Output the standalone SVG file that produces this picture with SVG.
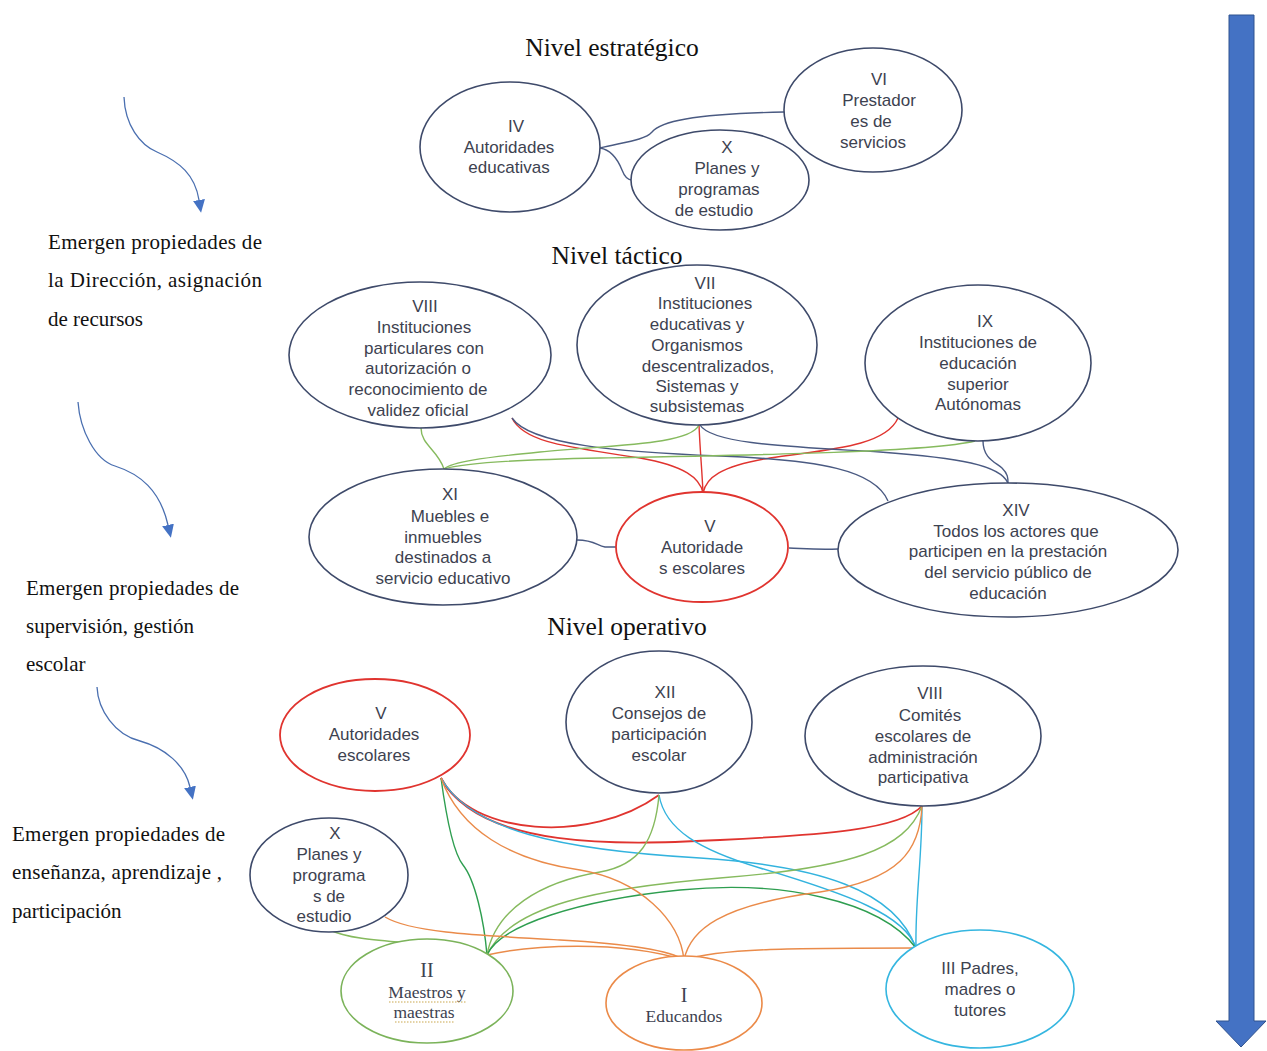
<svg xmlns="http://www.w3.org/2000/svg" width="1267" height="1051" viewBox="0 0 1267 1051">
<defs>
<marker id="ah" markerUnits="userSpaceOnUse" markerWidth="14" markerHeight="12" refX="0" refY="6" orient="auto">
<path d="M0,0 L13,6 L0,12 z" fill="#4472C4"/>
</marker>
</defs>
<style>
.n{fill:#fff;stroke:#3e4a6a;stroke-width:1.6}
.nr{fill:#fff;stroke:#e0342f;stroke-width:1.8}
.ng{fill:#fff;stroke:#7bb35a;stroke-width:1.6}
.no{fill:#fff;stroke:#eb8a48;stroke-width:1.6}
.nc{fill:#fff;stroke:#35b6e0;stroke-width:1.6}
.t{font-family:"Liberation Sans",Arial,sans-serif;font-size:17px;fill:#3d4250;text-anchor:middle}
.ts{font-family:"Liberation Serif","Times New Roman",serif;font-size:17.5px;fill:#3d4250;text-anchor:middle}
.h{font-family:"Liberation Serif","Times New Roman",serif;font-size:25.5px;fill:#111;text-anchor:middle}
.l{font-family:"Liberation Serif","Times New Roman",serif;font-size:21px;fill:#111}
.c{fill:none;stroke-width:1.4}
.cb{stroke:#4a5a82}
.cr{stroke:#e0342f}
.cg{stroke:#86ba5e}
.cdg{stroke:#2e9e50}
.co{stroke:#ea8b4a}
.cc{stroke:#33b3de}
.la{fill:none;stroke:#4a6fb0;stroke-width:1.3}
</style>
<rect width="1267" height="1051" fill="#fff"/>

<text class="h" x="612" y="56">Nivel estratégico</text>
<text class="h" x="617" y="264">Nivel táctico</text>
<text class="h" x="627" y="635">Nivel operativo</text>

<g id="side-notes">
<path class="la" d="M124,97 C125,125 140,145 157,152 C180,162 195,175 199,200" marker-end="url(#ah)"/>
<path class="la" d="M78,402 C80,430 95,460 115,466 C140,474 160,490 168,525" marker-end="url(#ah)"/>
<path class="la" d="M97,687 C98,710 115,735 140,741 C165,748 185,765 190,787" marker-end="url(#ah)"/>
<text class="l" x="48" y="249" textLength="214" lengthAdjust="spacing">Emergen propiedades de</text>
<text class="l" x="48" y="287" textLength="214" lengthAdjust="spacing">la Dirección, asignación</text>
<text class="l" x="48" y="326">de recursos</text>
<text class="l" x="26" y="595" textLength="213" lengthAdjust="spacing">Emergen propiedades de</text>
<text class="l" x="26" y="633">supervisión, gestión</text>
<text class="l" x="26" y="671">escolar</text>
<text class="l" x="12" y="841" textLength="213" lengthAdjust="spacing">Emergen propiedades de</text>
<text class="l" x="12" y="879" textLength="210" lengthAdjust="spacing">enseñanza, aprendizaje ,</text>
<text class="l" x="12" y="918">participación</text>
</g>

<g id="big-arrow">
<path d="M1229,15 L1254,15 L1254,1021 L1266,1021 L1241,1047 L1216,1021 L1229,1021 z" fill="#4472C4" stroke="#2F528F" stroke-width="1"/>
</g>

<g id="connectors">
<path class="c cb" d="M600,148 C625,142 645,140 652,132 C660,122 690,114 784,112"/>
<path class="c cb" d="M600,148 C612,150 618,160 622,170 C625,178 628,180 632,180"/>

<path class="c cr" d="M512,418 C525,445 580,448 640,458 C685,466 700,478 703,493"/>
<path class="c cr" d="M699,425 C700,450 702,470 703,493"/>
<path class="c cr" d="M898,418 C885,448 820,450 770,458 C720,466 706,478 703,493"/>
<path class="c cb" d="M512,418 C530,445 620,452 720,456 C820,460 875,470 888,501"/>
<path class="c cb" d="M700,425 C712,445 800,447 880,452 C960,458 1000,465 1008,483"/>
<path class="c cb" d="M983,441 C983,458 995,462 1002,468 C1008,474 1008,478 1008,483"/>
<path class="c cb" d="M577,540 C595,540 597,546 605,547 L616,547"/>
<path class="c cb" d="M789,548 C810,549 820,550 838,549"/>
<path class="c cg" d="M421,428 C421,445 438,450 444,469"/>
<path class="c cg" d="M699,425 C690,445 610,445 540,452 C480,458 452,462 444,469"/>
<path class="c cg" d="M975,441 C930,452 760,455 600,458 C500,460 460,464 444,469"/>

<path class="c cr" style="stroke-width:1.8" d="M441,778 C470,835 590,845 659,795"/>
<path class="c cr" style="stroke-width:1.8" d="M441,778 C480,850 620,845 720,840 C820,835 900,830 922,806"/>
<path class="c cc" d="M441,778 C470,830 560,850 700,858 C820,866 895,890 916,948"/>
<path class="c cc" d="M659,795 C665,830 700,850 760,868 C850,895 905,915 916,948"/>
<path class="c cc" d="M922,806 C922,860 915,900 916,948"/>
<path class="c cdg" d="M441,778 C448,830 455,855 463,865 C475,880 484,920 487,955"/>
<path class="c cg" d="M659,795 C655,840 640,865 600,872 C540,882 495,910 487,955"/>
<path class="c cg" d="M922,806 C905,850 850,868 720,878 C600,888 510,905 487,955"/>
<path class="c cdg" d="M916,948 C880,900 780,880 680,890 C580,900 500,925 487,955"/>
<path class="c cg" d="M330,930 C360,945 440,940 487,955"/>
<path class="c co" d="M441,778 C460,830 510,860 580,870 C640,880 680,920 684,960"/>
<path class="c co" d="M922,806 C920,850 900,880 820,892 C720,905 690,930 684,960"/>
<path class="c co" d="M385,917 C410,932 470,935 560,940 C630,944 670,950 684,960"/>
<path class="c co" d="M487,955 C530,945 620,940 684,960"/>
<path class="c co" d="M684,960 C720,948 800,948 916,948"/>
</g>

<g id="n-IV-strat">
<ellipse class="n" cx="510" cy="147" rx="90" ry="65"/>
<text class="t" x="516" y="132">IV</text>
<text class="t" x="509" y="153">Autoridades</text>
<text class="t" x="509" y="173">educativas</text>
</g>
<g id="n-VI-strat">
<ellipse class="n" cx="873" cy="110" rx="89" ry="62"/>
<text class="t" x="879" y="85">VI</text>
<text class="t" x="879" y="106">Prestador</text>
<text class="t" x="871" y="127">es de</text>
<text class="t" x="873" y="148">servicios</text>
</g>
<g id="n-X-strat">
<ellipse class="n" cx="720" cy="180" rx="89" ry="50"/>
<text class="t" x="727" y="153">X</text>
<text class="t" x="727" y="174">Planes y</text>
<text class="t" x="719" y="195">programas</text>
<text class="t" x="714" y="216">de estudio</text>
</g>

<g id="n-VIII-tact">
<ellipse class="n" cx="420" cy="355" rx="131" ry="73"/>
<text class="t" x="425" y="312">VIII</text>
<text class="t" x="424" y="333">Instituciones</text>
<text class="t" x="424" y="354">particulares con</text>
<text class="t" x="418" y="374">autorización o</text>
<text class="t" x="418" y="395">reconocimiento de</text>
<text class="t" x="418" y="416">validez oficial</text>
</g>
<g id="n-VII-tact">
<ellipse class="n" cx="697" cy="345" rx="120" ry="80"/>
<text class="t" x="705" y="289">VII</text>
<text class="t" x="705" y="309">Instituciones</text>
<text class="t" x="697" y="330">educativas y</text>
<text class="t" x="697" y="351">Organismos</text>
<text class="t" x="708" y="372">descentralizados,</text>
<text class="t" x="697" y="392">Sistemas y</text>
<text class="t" x="697" y="412">subsistemas</text>
</g>
<g id="n-IX-tact">
<ellipse class="n" cx="978" cy="363" rx="113" ry="78"/>
<text class="t" x="985" y="327">IX</text>
<text class="t" x="978" y="348">Instituciones de</text>
<text class="t" x="978" y="369">educación</text>
<text class="t" x="978" y="390">superior</text>
<text class="t" x="978" y="410">Autónomas</text>
</g>
<g id="n-XI-tact">
<ellipse class="n" cx="443" cy="537" rx="134" ry="68"/>
<text class="t" x="450" y="500">XI</text>
<text class="t" x="450" y="522">Muebles e</text>
<text class="t" x="443" y="543">inmuebles</text>
<text class="t" x="443" y="563">destinados a</text>
<text class="t" x="443" y="584">servicio educativo</text>
</g>
<g id="n-V-tact">
<ellipse class="nr" cx="702" cy="547" rx="86" ry="55"/>
<text class="t" x="710" y="532">V</text>
<text class="t" x="702" y="553">Autoridade</text>
<text class="t" x="702" y="574">s escolares</text>
</g>
<g id="n-XIV-tact">
<ellipse class="n" cx="1008" cy="550" rx="170" ry="67"/>
<text class="t" x="1016" y="516">XIV</text>
<text class="t" x="1016" y="537">Todos los actores que</text>
<text class="t" x="1008" y="557">participen en la prestación</text>
<text class="t" x="1008" y="578">del servicio público de</text>
<text class="t" x="1008" y="599">educación</text>
</g>

<g id="n-V-op">
<ellipse class="nr" cx="375" cy="735" rx="95" ry="56"/>
<text class="t" x="381" y="719">V</text>
<text class="t" x="374" y="740">Autoridades</text>
<text class="t" x="374" y="761">escolares</text>
</g>
<g id="n-XII-op">
<ellipse class="n" cx="659" cy="722" rx="93" ry="71"/>
<text class="t" x="665" y="698">XII</text>
<text class="t" x="659" y="719">Consejos de</text>
<text class="t" x="659" y="740">participación</text>
<text class="t" x="659" y="761">escolar</text>
</g>
<g id="n-VIII-op">
<ellipse class="n" cx="923" cy="736" rx="118" ry="70"/>
<text class="t" x="930" y="699">VIII</text>
<text class="t" x="930" y="721">Comités</text>
<text class="t" x="923" y="742">escolares de</text>
<text class="t" x="923" y="763">administración</text>
<text class="t" x="923" y="783">participativa</text>
</g>
<g id="n-X-op">
<ellipse class="n" cx="329" cy="875" rx="79" ry="57"/>
<text class="t" x="335" y="839">X</text>
<text class="t" x="329" y="860">Planes y</text>
<text class="t" x="329" y="881">programa</text>
<text class="t" x="329" y="902">s de</text>
<text class="t" x="324" y="922">estudio</text>
</g>
<g id="n-II-op">
<ellipse class="ng" cx="427" cy="991" rx="86" ry="52"/>
<text class="ts" x="427" y="977" style="font-size:20px">II</text>
<text class="ts" x="427" y="998">Maestros y</text>
<text class="ts" x="424" y="1018">maestras</text>
<path d="M389,1002 H466 M395,1022 H454" stroke="#c9a84e" stroke-width="1.2" stroke-dasharray="1.5,1.5" fill="none"/>
</g>
<g id="n-I-op">
<ellipse class="no" cx="684" cy="1003" rx="78" ry="47"/>
<text class="ts" x="684" y="1002" style="font-size:20px">I</text>
<text class="ts" x="684" y="1022">Educandos</text>
</g>
<g id="n-III-op">
<ellipse class="nc" cx="980" cy="989" rx="94" ry="59"/>
<text class="t" x="980" y="974">III Padres,</text>
<text class="t" x="980" y="995">madres o</text>
<text class="t" x="980" y="1016">tutores</text>
</g>
</svg>
